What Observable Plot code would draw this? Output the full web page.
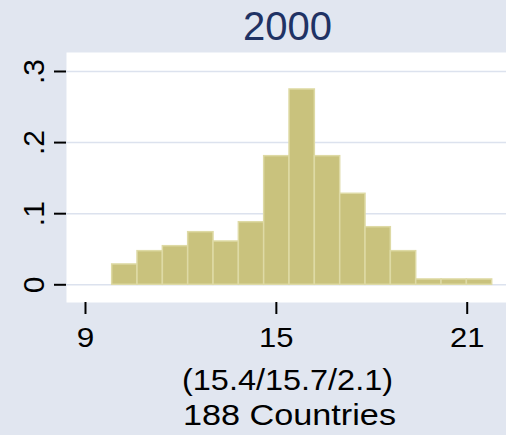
<!DOCTYPE html>
<html>
<head>
<meta charset="utf-8">
<script src="https://cdn.jsdelivr.net/npm/d3@7"></script>
<script src="https://cdn.jsdelivr.net/npm/@observablehq/plot@0.6"></script>
<style>
  html, body { margin: 0; padding: 0; background: #E1E6F0; }
</style>
</head>
<body>
<div id="chart"></div>
<script>
// ---- data ----
const title = "2000";
const binEdges = [9.839, 10.635, 11.432, 12.228, 13.025, 13.821, 14.617, 15.414,
                  16.210, 17.007, 17.803, 18.599, 19.396, 20.192, 20.989, 21.785];
const densities = [0.0286, 0.0473, 0.0543, 0.0740, 0.0609, 0.0880, 0.1809, 0.2747,
                   0.1809, 0.1280, 0.0810, 0.0473, 0.0075, 0.0075, 0.0075];
const xTicks = [9, 15, 21];
const xTickLabels = ["9", "15", "21"];
const yTicks = [0, 0.1, 0.2, 0.3];
const yTickLabels = ["0", ".1", ".2", ".3"];
const noteLines = ["(15.4/15.7/2.1)", "188 Countries"];
const xDomain = [8.403, 22.235];
const yDomain = [-0.0249, 0.3267];

const bins = densities.map((d, i) => ({x1: binEdges[i], x2: binEdges[i + 1], density: d}));

const font = "'Liberation Sans', Arial, Helvetica, sans-serif";

const chart = Plot.plot({
  width: 506,
  height: 435,
  marginLeft: 66,
  marginRight: 0,
  marginTop: 52,
  marginBottom: 133,
  style: {background: "#E1E6F0", fontFamily: font, color: "black"},
  x: {domain: xDomain},
  y: {domain: yDomain},
  marks: [
    Plot.frame({fill: "white", stroke: null}),
    Plot.ruleY(yTicks, {stroke: "#DCE2EE", strokeWidth: 1.5}),
    Plot.rectY(bins, {x1: "x1", x2: "x2", y1: 0, y2: "density",
      fill: "#C9C27D", stroke: "#DEDAA5", strokeWidth: 1.5}),
    Plot.axisX({ticks: xTicks, tickFormat: d => xTickLabels[xTicks.indexOf(d)],
      tickSize: 12, tickPadding: 12.6, fontSize: 28,
      strokeWidth: 2, line: true, label: null}),
    Plot.axisY({ticks: yTicks, tickFormat: d => yTickLabels[yTicks.indexOf(d)],
      tickSize: 12, tickPadding: 10.5, tickRotate: -90, fontSize: 30,
      strokeWidth: 2, line: true, label: null}),
    Plot.text([title], {text: d => d, frameAnchor: "top", lineAnchor: "bottom",
      dy: -12.7, dx: 1, fontSize: 40, fill: "#1F3264"}),
    Plot.text([noteLines[0]], {text: d => d, frameAnchor: "bottom", lineAnchor: "bottom",
      dy: 87.3, dx: 1, fontSize: 29, fill: "black"}),
    Plot.text([noteLines[1]], {text: d => d, frameAnchor: "bottom", lineAnchor: "bottom",
      dy: 122.3, dx: 3, fontSize: 29, fill: "black"})
  ]
});

// the reference's lower texts are drawn slightly wider than the font's natural width
function stretch(label, len) {
  d3.select(chart).selectAll("text")
    .filter(function () { return this.textContent === label; })
    .attr("textLength", len).attr("lengthAdjust", "spacingAndGlyphs");
}
stretch(noteLines[0], 211);
stretch(noteLines[1], 213);
stretch(xTickLabels[0], 17.5);
stretch(xTickLabels[1], 34.5);
stretch(xTickLabels[2], 34.5);

document.getElementById("chart").appendChild(chart);
</script>
</body>
</html>
